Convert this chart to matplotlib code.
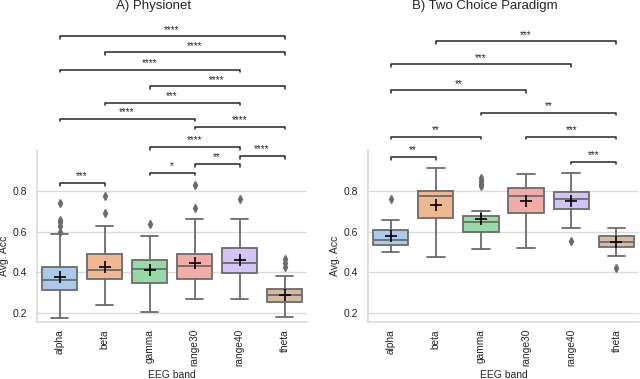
import matplotlib
matplotlib.use("Agg")
import matplotlib.pyplot as plt
import seaborn as sns

bands = ["alpha", "beta", "gamma", "range30", "range40", "theta"]

# A) Physionet - box statistics
phys_whislo = [0.177, 0.238, 0.205, 0.269, 0.269, 0.179]
phys_q1 = [0.313, 0.366, 0.349, 0.366, 0.398, 0.254]
phys_med = [0.364, 0.411, 0.416, 0.429, 0.444, 0.287]
phys_q3 = [0.425, 0.490, 0.459, 0.492, 0.521, 0.320]
phys_whishi = [0.587, 0.629, 0.579, 0.662, 0.662, 0.382]
phys_mean = [0.378, 0.428, 0.410, 0.444, 0.460, 0.289]
phys_fliers = [[0.597, 0.629, 0.645, 0.657, 0.740], [0.693, 0.775], [0.638],
               [0.715, 0.826], [0.759], [0.428, 0.447, 0.466]]
phys_pairs = [("alpha", "beta", "***"), ("gamma", "range30", "*"),
              ("range30", "range40", "**"), ("range40", "theta", "****"),
              ("gamma", "range40", "****"), ("range30", "theta", "****"),
              ("alpha", "range30", "****"), ("beta", "range40", "***"),
              ("gamma", "theta", "****"), ("alpha", "range40", "****"),
              ("beta", "theta", "****"), ("alpha", "theta", "****")]

# B) Two Choice Paradigm
tcp_whislo = [0.501, 0.474, 0.515, 0.521, 0.619, 0.479]
tcp_q1 = [0.536, 0.667, 0.600, 0.692, 0.711, 0.525]
tcp_med = [0.559, 0.774, 0.646, 0.772, 0.759, 0.551]
tcp_q3 = [0.605, 0.797, 0.677, 0.815, 0.795, 0.580]
tcp_whishi = [0.656, 0.910, 0.700, 0.880, 0.885, 0.619]
tcp_mean = [0.580, 0.731, 0.661, 0.749, 0.751, 0.549]
tcp_fliers = [[0.759], [], [0.821, 0.835, 0.846, 0.864], [], [0.555], [0.420]]
tcp_pairs = [("range40", "theta", "***"), ("alpha", "beta", "**"),
             ("alpha", "gamma", "**"), ("range30", "theta", "***"),
             ("gamma", "theta", "**"), ("alpha", "range30", "**"),
             ("alpha", "range40", "***"), ("beta", "theta", "***")]

# bracket heights (data units)
phys_levels = [0.839, 0.889, 0.933, 0.972, 1.016, 1.115, 1.154, 1.233,
               1.312, 1.395, 1.479, 1.557]
tcp_levels = [0.943, 0.967, 1.066, 1.066, 1.184, 1.292, 1.42, 1.533]

sns.set_style("whitegrid")
plt.rcParams['font.family'] = ['Liberation Sans', 'DejaVu Sans']

colors = [sns.desaturate(c, 0.75) for c in sns.color_palette("pastel", 6)]
edge = "0.42"

fig = plt.figure(figsize=(6.4, 3.79), dpi=100)
ax1 = fig.add_axes([37 / 640, 57 / 379, 270 / 640, 172 / 379])
ax2 = fig.add_axes([368 / 640, 57 / 379, 271 / 640, 172 / 379])


def draw_panel(ax, whislo, q1, med, q3, whishi, mean, fliers, pairs, levels):
    stats = []
    for i in range(len(bands)):
        stats.append(dict(whislo=whislo[i], q1=q1[i], med=med[i], q3=q3[i],
                          whishi=whishi[i], mean=mean[i], fliers=fliers[i],
                          label=bands[i]))
    bp = ax.bxp(stats, positions=range(len(bands)), widths=0.78,
                patch_artist=True, showmeans=True,
                boxprops=dict(edgecolor=edge, linewidth=1.3),
                whiskerprops=dict(color=edge, linewidth=1.3),
                capprops=dict(color=edge, linewidth=1.3),
                medianprops=dict(color=edge, linewidth=1.3),
                meanprops=dict(marker="+", markeredgecolor="black",
                               markersize=8, markeredgewidth=1.2),
                flierprops=dict(marker="d", markerfacecolor=edge,
                                markeredgecolor=edge, markersize=4))
    for patch, c in zip(bp["boxes"], colors):
        patch.set_facecolor(c)

    for (a, b, lab), y in zip(pairs, levels):
        x1 = bands.index(a)
        x2 = bands.index(b)
        h = 0.014
        ax.plot([x1, x1, x2, x2], [y - h, y, y, y - h], color="0.15",
                linewidth=1.1, clip_on=False)
        ax.text((x1 + x2) / 2, y + 0.008, lab, ha="center", va="bottom",
                fontsize=7, color="0.15", clip_on=False)

    ax.set_xlim(-0.5, 5.5)
    ax.set_ylim(0.156, 1.0)
    ax.set_yticks([0.2, 0.4, 0.6, 0.8])
    ax.set_xticks(range(len(bands)))
    ax.set_xticklabels(bands, rotation=90, fontsize=7.3)
    ax.tick_params(axis="y", labelsize=7.5, length=0, pad=7)
    ax.tick_params(axis="x", length=0, pad=5)
    ax.grid(axis="x", visible=False)
    ax.grid(axis="y", color="0.86", linewidth=1)
    for s in ["top", "right"]:
        ax.spines[s].set_visible(False)
    for s in ["left", "bottom"]:
        ax.spines[s].set_color("0.85")
        ax.spines[s].set_linewidth(1.1)
    ax.set_ylabel("Avg. Acc", fontsize=7.5)
    ax.set_xlabel("EEG band", fontsize=7.5, labelpad=3)
    ax.yaxis.set_label_coords(-0.104, 0.384)


draw_panel(ax1, phys_whislo, phys_q1, phys_med, phys_q3, phys_whishi,
           phys_mean, phys_fliers, phys_pairs, phys_levels)
draw_panel(ax2, tcp_whislo, tcp_q1, tcp_med, tcp_q3, tcp_whishi,
           tcp_mean, tcp_fliers, tcp_pairs, tcp_levels)

fig.text(154 / 640, 1.0, "A) Physionet", ha="center", va="top", fontsize=9.5)
fig.text(485 / 640, 1.0, "B) Two Choice Paradigm", ha="center", va="top",
         fontsize=9.5)

fig.savefig("out.png", dpi=100)
